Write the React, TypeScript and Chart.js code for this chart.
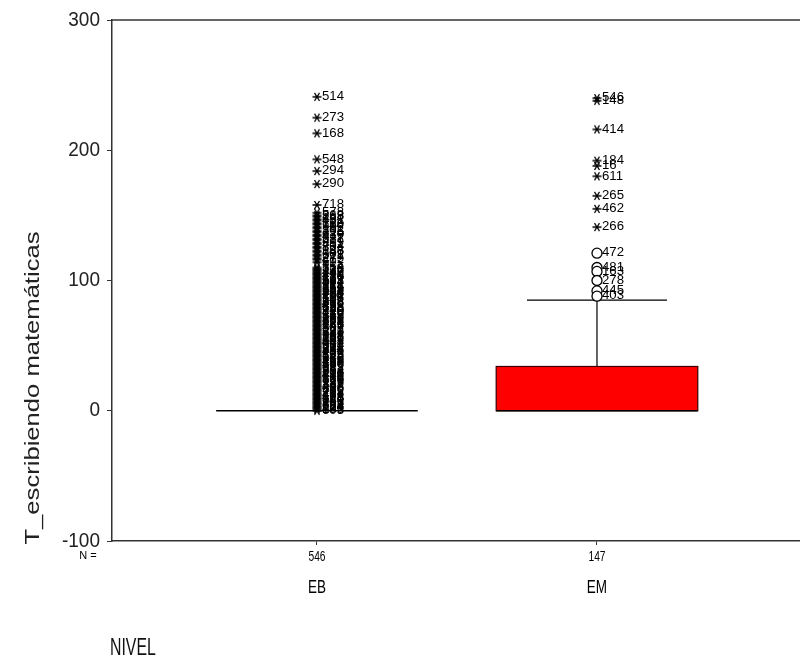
import React, { useEffect, useRef } from 'react';
import { Chart, registerables } from 'chart.js';
Chart.register(...registerables);

const FONT = '"Liberation Sans", Arial, sans-serif';

// Box-plot summary per category
const categories = ['EB', 'EM'];
const categoryPos = [1, 2];
const nCounts = [546, 147];
const whiskerLow = [0, 0];
const q1 = [0, 0];
const median = [0, 0];
const q3 = [0, 34];
const whiskerHigh = [0, 85];

// Y tick labels
const yTicks = [-100, 0, 100, 200, 300];

// Extreme values (*) and outliers (o) with case numbers
const ebExtremeValues = [
  241, 225, 213, 193, 184, 174, 158,
  152, 150, 149, 147, 146, 144, 143, 141, 140, 138, 137, 135, 134, 132, 131, 129, 128, 126, 125, 123, 122, 120, 119, 117, 116, 114,
  110, 108, 107, 105, 104, 102, 101, 99, 98, 96, 95, 93, 92, 90, 89, 87, 86, 84, 83, 81, 80, 78, 77, 75, 74, 72, 71, 69, 68, 66, 65,
  63, 62, 60, 59, 57, 56, 54, 53, 51, 50, 48, 47, 45, 44, 42, 41, 39, 38, 36, 35, 33, 32, 30, 29, 27, 26, 24, 23, 21, 20, 18, 17,
  15, 14, 12, 11, 9, 8, 6, 5, 3, 2, 0,
];
const ebExtremeCases = [
  514, 273, 168, 548, 294, 290, 718,
  578, 563, 288, 652, 431, 112, 150, 96, 152, 302, 315, 620, 477, 532, 227, 219, 391, 704, 83, 188, 346, 601, 522, 275, 412, 69,
  554, 733, 357, 240, 491, 130, 612, 587, 404, 92, 174,
  339, 648, 455, 261, 119, 706, 383, 518, 47, 295,
  636, 140, 470, 212, 559, 371, 88, 693, 326, 245,
  501, 167, 629, 74, 398, 282, 541, 608, 633, 564,
  311, 57, 489, 202, 675, 143, 266, 419, 38, 590,
  127, 683, 354, 208, 446, 71, 539, 616, 185, 327,
  496, 29, 702, 258, 433, 161, 575, 640, 103, 369,
  214, 524, 603,
];
const ebExtremeValuesLow = [
  109, 106, 103, 100, 97, 94, 91, 88, 85, 82, 79, 76, 73, 70, 67, 64, 61, 58, 55,
  52, 49, 46, 43, 40, 37, 34, 31, 28, 25, 22, 19, 16, 13, 10, 7, 4, 1,
];
const ebExtremeCasesLow = [
  318, 447, 276, 593, 121, 655, 384, 207, 537, 416, 62, 729, 349, 180, 472, 597, 233, 668, 305,
  44, 511, 386, 139, 622, 257, 699, 81, 430, 566, 193, 347, 610, 22, 478, 251, 684, 136,
];
const emExtremeValues = [240, 238, 216, 192, 188, 180, 165, 155, 141];
const emExtremeCases = [546, 148, 414, 184, 16, 611, 265, 462, 266];
const emOutlierValues = [121, 110, 107, 100, 92, 88];
const emOutlierCases = [472, 481, 163, 278, 445, 403];

const yMin = -100;
const yMax = 300;
const boxHalfWidth = 0.36;
const capHalfWidth = 0.25;

function drawText(ctx: CanvasRenderingContext2D, text: string, x: number, y: number, size: number, sx: number, align: CanvasTextAlign, color: string) {
  ctx.save();
  ctx.translate(x, y);
  ctx.scale(sx, 1);
  ctx.font = `${size}px ${FONT}`;
  ctx.textAlign = align;
  ctx.textBaseline = 'middle';
  ctx.fillStyle = color;
  ctx.fillText(text, 0, 0);
  ctx.restore();
}

function makeStar(): HTMLCanvasElement {
  const c = document.createElement('canvas');
  c.width = 10;
  c.height = 10;
  const g = c.getContext('2d') as CanvasRenderingContext2D;
  g.strokeStyle = '#000';
  g.lineWidth = 1.4;
  g.beginPath();
  g.moveTo(0.5, 5);
  g.lineTo(9.5, 5);
  g.moveTo(2.5, 1);
  g.lineTo(7.5, 9);
  g.moveTo(7.5, 1);
  g.lineTo(2.5, 9);
  g.stroke();
  return c;
}

export default function App() {
  const ref = useRef<HTMLCanvasElement>(null);

  useEffect(() => {
    const caseLists = [ebExtremeCasesLow, ebExtremeCases, emExtremeCases, emOutlierCases];
    const star = makeStar();

    const boxPlugin = {
      id: 'boxes',
      beforeDatasetsDraw(chart: any) {
        const { ctx, scales } = chart;
        const xs = scales.x;
        const ys = scales.y;
        ctx.save();
        for (let i = 0; i < categories.length; i++) {
          const xl = xs.getPixelForValue(categoryPos[i] - boxHalfWidth);
          const xr = xs.getPixelForValue(categoryPos[i] + boxHalfWidth);
          const xc = xs.getPixelForValue(categoryPos[i]);
          const yq1 = ys.getPixelForValue(q1[i]);
          const yq3 = ys.getPixelForValue(q3[i]);
          const ymed = ys.getPixelForValue(median[i]);
          const ylo = ys.getPixelForValue(whiskerLow[i]);
          const yhi = ys.getPixelForValue(whiskerHigh[i]);
          ctx.strokeStyle = '#000';
          ctx.lineWidth = 1.2;
          if (whiskerHigh[i] > q3[i]) {
            const cl = xs.getPixelForValue(categoryPos[i] - capHalfWidth);
            const cr = xs.getPixelForValue(categoryPos[i] + capHalfWidth);
            ctx.beginPath();
            ctx.moveTo(xc, yq3);
            ctx.lineTo(xc, yhi);
            ctx.moveTo(cl, yhi);
            ctx.lineTo(cr, yhi);
            ctx.stroke();
          }
          if (whiskerLow[i] < q1[i]) {
            const cl = xs.getPixelForValue(categoryPos[i] - capHalfWidth);
            const cr = xs.getPixelForValue(categoryPos[i] + capHalfWidth);
            ctx.beginPath();
            ctx.moveTo(xc, yq1);
            ctx.lineTo(xc, ylo);
            ctx.moveTo(cl, ylo);
            ctx.lineTo(cr, ylo);
            ctx.stroke();
          }
          if (q3[i] > q1[i]) {
            ctx.fillStyle = '#ff0000';
            ctx.fillRect(xl, yq3, xr - xl, yq1 - yq3);
            ctx.strokeStyle = '#3a0000';
            ctx.strokeRect(xl, yq3, xr - xl, yq1 - yq3);
          }
          ctx.strokeStyle = '#000';
          ctx.lineWidth = 1.6;
          ctx.beginPath();
          ctx.moveTo(xl, ymed);
          ctx.lineTo(xr, ymed);
          ctx.stroke();
        }
        ctx.restore();
      },
      afterDatasetsDraw(chart: any) {
        const { ctx } = chart;
        chart.data.datasets.forEach((ds: any, di: number) => {
          const meta = chart.getDatasetMeta(di);
          const cases = caseLists[di];
          meta.data.forEach((pt: any, pi: number) => {
            if (cases[pi] === undefined) return;
            drawText(ctx, String(cases[pi]), pt.x + 5, pt.y, 12, 1.1, 'left', '#000');
          });
        });
      },
      afterDraw(chart: any) {
        const { ctx, chartArea, scales } = chart;
        const xs = scales.x;
        const ys = scales.y;
        ctx.save();
        ctx.strokeStyle = '#333';
        ctx.lineWidth = 1.5;
        ctx.beginPath();
        ctx.moveTo(chartArea.left, chartArea.top);
        ctx.lineTo(chartArea.right, chartArea.top);
        ctx.stroke();
        ctx.restore();
        // y tick labels
        yTicks.forEach((t) => {
          drawText(ctx, String(t), 100, ys.getPixelForValue(t), 20, 0.95, 'right', '#222');
        });
        // N row
        drawText(ctx, 'N =', 88, chartArea.bottom + 15, 11, 1, 'center', '#000');
        categories.forEach((c, i) => {
          const x = xs.getPixelForValue(categoryPos[i]);
          drawText(ctx, String(nCounts[i]), x, chartArea.bottom + 16, 14, 0.73, 'center', '#000');
          drawText(ctx, c, x, chartArea.bottom + 47, 18, 0.75, 'center', '#000');
        });
        // x title
        drawText(ctx, 'NIVEL', 110, 648, 24, 0.66, 'left', '#111');
        // y title
        ctx.save();
        ctx.translate(33, 388);
        ctx.rotate(-Math.PI / 2);
        ctx.scale(1.28, 1);
        ctx.textAlign = 'center';
        ctx.textBaseline = 'middle';
        ctx.font = `20px ${FONT}`;
        ctx.fillStyle = '#222';
        ctx.fillText('T_escribiendo matemáticas', 0, 0);
        ctx.restore();
      },
    };

    const chart = new Chart(ref.current as HTMLCanvasElement, {
      type: 'scatter',
      data: {
        datasets: [
          {
            label: 'EB extremos (bajos)',
            data: ebExtremeValuesLow.map((v) => ({ x: categoryPos[0], y: v })),
            pointStyle: star as any,
            radius: 5,
            borderWidth: 0,
          },
          {
            label: 'EB extremos',
            data: ebExtremeValues.map((v) => ({ x: categoryPos[0], y: v })),
            pointStyle: star as any,
            radius: 5,
            borderWidth: 0,
          },
          {
            label: 'EM extremos',
            data: emExtremeValues.map((v) => ({ x: categoryPos[1], y: v })),
            pointStyle: star as any,
            radius: 5,
            borderWidth: 0,
          },
          {
            label: 'EM atípicos',
            data: emOutlierValues.map((v) => ({ x: categoryPos[1], y: v })),
            pointStyle: 'circle',
            radius: 5,
            borderColor: '#000',
            backgroundColor: '#fff',
            borderWidth: 1.3,
          },
        ],
      },
      options: {
        responsive: false,
        animation: false,
        layout: { autoPadding: false, padding: { top: 20, left: 0, right: 0, bottom: 0 } },
        plugins: {
          legend: { display: false },
          tooltip: { enabled: false },
        },
        scales: {
          x: {
            type: 'linear',
            min: 0.268,
            max: 2.725,
            afterFit: (scale: any) => {
              scale.height = 123;
            },
            afterBuildTicks: (scale: any) => {
              scale.ticks = categoryPos.map((v) => ({ value: v }));
            },
            ticks: { display: false },
            grid: { drawOnChartArea: false, drawTicks: true, tickLength: 4, color: '#333' },
            border: { display: true, color: '#333', width: 1.5 },
          },
          y: {
            min: yMin,
            max: yMax,
            afterFit: (scale: any) => {
              scale.width = 112;
            },
            ticks: { display: false, stepSize: 100 },
            grid: { drawOnChartArea: false, drawTicks: true, tickLength: 5, color: '#333' },
            border: { display: true, color: '#333', width: 1.5 },
          },
        },
      },
      plugins: [boxPlugin],
    });
    return () => chart.destroy();
  }, []);

  return (
    <div style={{ position: 'absolute', left: 0, top: 0, width: 800, height: 664, background: '#fff' }}>
      <canvas ref={ref} width={800} height={664} style={{ display: 'block' }} />
    </div>
  );
}
